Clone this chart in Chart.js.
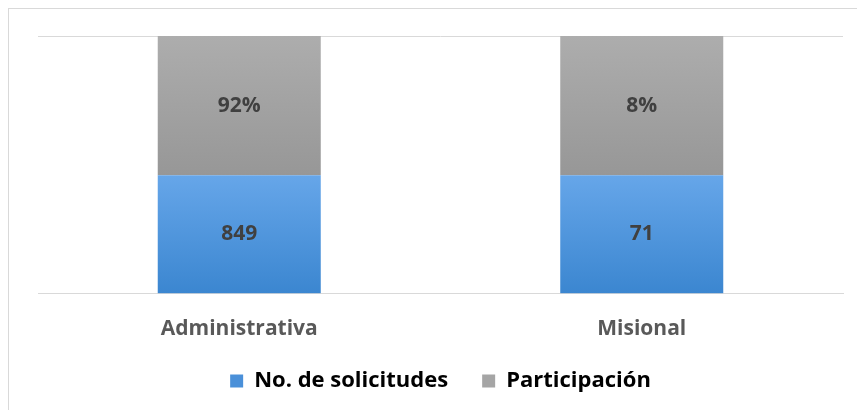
<!DOCTYPE html>
<html>
<head>
<meta charset="utf-8">
<script src="https://cdn.jsdelivr.net/npm/chart.js@4"></script>
<style>
  html, body { margin: 0; background: #fff; }
  #wrap { position: relative; width: 857px; height: 410px; }
  #frame { position: absolute; left: 8px; top: 8px; right: 0; bottom: 0;
           border-top: 1px solid #d9d9d9; border-left: 1px solid #d9d9d9; pointer-events: none; }
</style>
</head>
<body>
<div id="wrap">
  <canvas id="myChart" width="857" height="410"></canvas>
  <div id="frame"></div>
</div>
<script>
const categorias = ['Administrativa', 'Misional'];
const solicitudes = [849, 71];        // No. de solicitudes
const participacion = [92, 8];        // Participación, %
// share of each column (100% stacked) taken by each series
const alturaSolicitudes = [46, 46];
const alturaParticipacion = [54, 54];

const FUENTE = '"Open Sans", "Liberation Sans", sans-serif';

// vertical gradient between two values of the y scale
function degradado(chart, desde, hasta, c1, c2) {
  const y = chart.scales.y;
  if (!y) return c1;
  const g = chart.ctx.createLinearGradient(0, y.getPixelForValue(hasta), 0, y.getPixelForValue(desde));
  g.addColorStop(0, c1);
  g.addColorStop(1, c2);
  return g;
}

// value labels in the middle of each segment
const etiquetas = {
  id: 'etiquetas',
  afterDatasetsDraw(chart) {
    const ctx = chart.ctx;
    ctx.save();
    ctx.font = 'bold 21px ' + FUENTE;
    ctx.fillStyle = '#404040';
    ctx.textAlign = 'center';
    ctx.textBaseline = 'middle';
    chart.data.datasets.forEach((ds, i) => {
      chart.getDatasetMeta(i).data.forEach((bar, j) => {
        const c = bar.getCenterPoint();
        ctx.fillText(ds.textos[j], c.x, c.y);
      });
    });
    ctx.restore();
  }
};

const ctx = document.getElementById('myChart').getContext('2d');
new Chart(ctx, {
  type: 'bar',
  data: {
    labels: categorias,
    datasets: [{
      label: 'No. de solicitudes',
      data: alturaSolicitudes,
      textos: solicitudes.map(v => String(v)),
      colorLeyenda: '#4a90d9',
      backgroundColor: c => degradado(c.chart, 0, 46, '#66a6e9', '#3b86d0')
    }, {
      label: 'Participación',
      data: alturaParticipacion,
      textos: participacion.map(v => v + '%'),
      colorLeyenda: '#a5a5a5',
      backgroundColor: c => degradado(c.chart, 46, 100, '#adadad', '#979797')
    }]
  },
  options: {
    responsive: false,
    animation: false,
    layout: { padding: { left: 38, right: 14, top: 36, bottom: 8 } },
    datasets: {
      bar: { categoryPercentage: 1, barPercentage: 0.405, borderWidth: 0 }
    },
    scales: {
      x: {
        stacked: true,
        grid: { display: false },
        border: { color: '#d9d9d9' },
        ticks: { color: '#595959', font: { family: FUENTE, size: 21, weight: 'bold' }, padding: 15 },
        afterFit: s => { s.height -= 21; }
      },
      y: {
        stacked: true,
        min: 0,
        max: 100,
        ticks: { display: false, stepSize: 100 },
        grid: { color: '#d9d9d9', drawTicks: false },
        border: { display: false }
      }
    },
    plugins: {
      tooltip: { enabled: false },
      legend: {
        position: 'bottom',
        labels: {
          color: '#595959',
          font: { family: FUENTE, size: 22, weight: 'bold' },
          boxWidth: 13,
          boxHeight: 13,
          padding: 34,
          generateLabels: chart => chart.data.datasets.map((ds, i) => ({
            text: ds.label,
            fillStyle: ds.colorLeyenda,
            strokeStyle: ds.colorLeyenda,
            lineWidth: 0,
            datasetIndex: i
          }))
        }
      }
    }
  },
  plugins: [etiquetas]
});
</script>
</body>
</html>
